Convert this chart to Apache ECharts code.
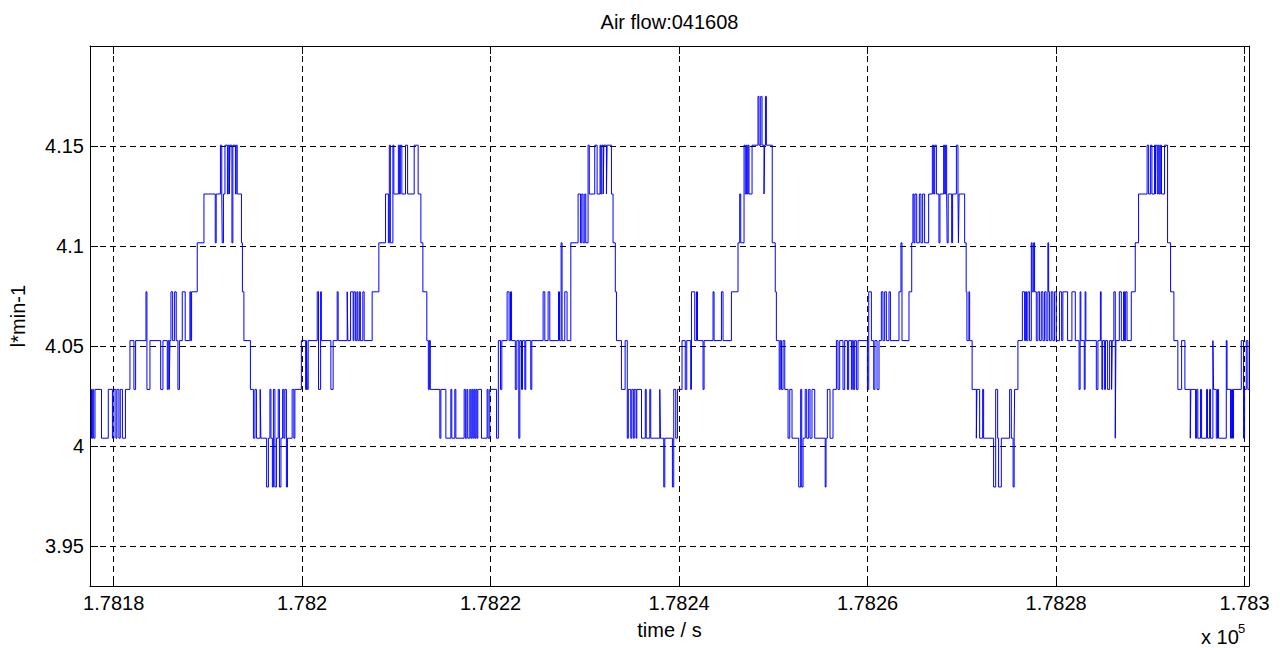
<!DOCTYPE html>
<html>
<head>
<meta charset="utf-8">
<script src="https://cdn.jsdelivr.net/npm/echarts@6/dist/echarts.min.js"></script>
<style>
html,body{margin:0;padding:0;background:#fff;}
#chart{width:1280px;height:648px;}
</style>
</head>
<body>
<div id="chart"></div>
<script>
const chartTitle = 'Air flow:041608';
const xAxisName = 'time / s';
const yAxisName = 'l*min-1';
const xExponentBase = 'x 10';
const xExponent = '5';
const xRange = [178177.49, 178300.47];
const yRange = [3.93, 4.2];
const xTicks = [178180, 178200, 178220, 178240, 178260, 178280, 178300];
const xTickLabels = ['1.7818', '1.782', '1.7822', '1.7824', '1.7826', '1.7828', '1.783'];
const yTicks = [3.95, 4, 4.05, 4.1, 4.15];
const yTickLabels = ['3.95', '4', '4.05', '4.1', '4.15'];

// [time (s), air flow (l/min)] — change points of the quantised signal
const samples = [
[178177.49,4.0283],[178177.65,4.0039],[178177.77,4.0283],[178177.88,4.0039],[178178.02,4.0283],[178178.71,4.0039],
[178179.43,4.0283],[178179.87,4.0039],[178180.03,4.0283],[178180.24,4.0039],[178180.35,4.0283],[178180.56,4.0039],
[178180.70,4.0283],[178180.93,4.0039],[178181.25,4.0283],[178181.73,4.0527],[178182.15,4.0283],[178182.33,4.0527],
[178183.43,4.0771],[178183.53,4.0283],[178183.85,4.0527],[178184.99,4.0283],[178185.23,4.0527],[178185.69,4.0283],
[178185.79,4.0527],[178185.90,4.0283],[178185.97,4.0527],[178186.08,4.0771],[178186.26,4.0527],[178186.47,4.0771],
[178186.64,4.0527],[178186.82,4.0283],[178186.98,4.0527],[178187.28,4.0771],[178187.59,4.0527],[178188.09,4.0771],
[178188.18,4.0527],[178188.27,4.0771],[178188.87,4.1016],[178189.58,4.1260],[178190.78,4.1016],[178190.88,4.1260],
[178191.33,4.1504],[178191.47,4.1260],[178191.52,4.1016],[178191.65,4.1260],[178191.81,4.1504],[178192.07,4.1260],
[178192.16,4.1504],[178192.28,4.1260],[178192.34,4.1504],[178192.55,4.1016],[178192.65,4.1504],[178192.92,4.1260],
[178193.00,4.1504],[178193.11,4.1260],[178193.56,4.1016],[178193.66,4.0771],[178193.82,4.0527],[178194.51,4.0283],
[178194.83,4.0039],[178194.99,4.0283],[178195.15,4.0039],[178195.55,4.0283],[178195.62,4.0039],[178196.23,3.9795],
[178196.42,4.0039],[178196.58,4.0283],[178196.69,4.0039],[178196.84,3.9795],[178196.95,4.0283],[178197.11,3.9795],
[178197.27,4.0039],[178197.46,4.0283],[178197.59,3.9795],[178197.75,4.0039],[178197.93,4.0283],[178198.06,4.0039],
[178198.17,4.0283],[178198.33,3.9795],[178198.44,4.0039],[178198.94,4.0283],[178199.12,4.0039],[178199.23,4.0283],
[178199.92,4.0527],[178200.37,4.0283],[178200.47,4.0527],[178200.54,4.0283],[178200.64,4.0527],[178201.60,4.0771],
[178201.74,4.0283],[178201.96,4.0771],[178202.04,4.0527],[178203.05,4.0283],[178203.29,4.0527],[178203.72,4.0771],
[178203.82,4.0527],[178204.78,4.0771],[178204.85,4.0527],[178205.14,4.0771],[178205.41,4.0527],[178205.49,4.0771],
[178205.65,4.0527],[178205.81,4.0771],[178205.91,4.0527],[178206.07,4.0771],[178206.18,4.0527],[178206.44,4.0771],
[178206.58,4.0527],[178207.43,4.0771],[178208.14,4.1016],[178208.85,4.1260],[178209.15,4.1016],[178209.25,4.1504],
[178209.36,4.1016],[178209.63,4.1504],[178209.73,4.1260],[178210.21,4.1504],[178210.32,4.1260],[178210.42,4.1504],
[178210.58,4.1260],[178210.97,4.1504],[178211.19,4.1260],[178211.89,4.1504],[178212.31,4.1260],[178212.60,4.1016],
[178212.81,4.0771],[178213.23,4.0527],[178213.39,4.0283],[178213.50,4.0527],[178213.60,4.0283],[178214.61,4.0039],
[178214.72,4.0283],[178215.25,4.0039],[178215.78,4.0283],[178215.88,4.0039],[178216.20,4.0283],[178216.31,4.0039],
[178217.19,4.0283],[178217.32,4.0039],[178217.48,4.0283],[178217.58,4.0039],[178217.79,4.0283],[178217.90,4.0039],
[178218.01,4.0283],[178218.11,4.0039],[178218.22,4.0283],[178218.32,4.0039],[178218.43,4.0283],[178218.54,4.0039],
[178218.64,4.0283],[178219.03,4.0039],[178219.63,4.0283],[178219.73,4.0039],[178219.91,4.0283],[178220.63,4.0039],
[178220.82,4.0527],[178221.05,4.0283],[178221.19,4.0527],[178221.75,4.0771],[178221.96,4.0527],[178222.11,4.0771],
[178222.22,4.0527],[178222.62,4.0283],[178222.78,4.0527],[178222.99,4.0039],[178223.10,4.0527],[178223.28,4.0283],
[178223.38,4.0527],[178223.63,4.0283],[178223.73,4.0527],[178224.26,4.0283],[178224.37,4.0527],[178225.57,4.0771],
[178225.75,4.0527],[178226.10,4.0771],[178226.28,4.0527],[178227.20,4.0771],[178227.31,4.0527],[178227.48,4.1016],
[178227.58,4.0527],[178227.87,4.0771],[178228.11,4.0527],[178228.51,4.1016],[178229.28,4.1260],[178229.53,4.1016],
[178229.67,4.1260],[178229.81,4.1016],[178229.99,4.1260],[178230.10,4.1016],[178230.34,4.1504],[178230.47,4.1260],
[178231.05,4.1504],[178231.30,4.1260],[178231.61,4.1504],[178231.69,4.1260],[178231.79,4.1504],[178231.95,4.1260],
[178232.01,4.1504],[178232.29,4.1260],[178232.36,4.1504],[178232.82,4.1260],[178232.99,4.1016],[178233.23,4.0771],
[178233.35,4.0527],[178233.88,4.0283],[178234.27,4.0527],[178234.50,4.0039],[178234.61,4.0283],[178234.87,4.0039],
[178234.98,4.0283],[178235.14,4.0039],[178235.24,4.0283],[178235.43,4.0039],[178235.51,4.0283],[178236.01,4.0039],
[178236.41,4.0283],[178236.51,4.0039],[178236.89,4.0283],[178236.99,4.0039],[178237.95,4.0283],[178238.02,4.0039],
[178238.37,3.9795],[178238.48,4.0039],[178239.29,3.9795],[178239.43,4.0283],[178239.64,4.0039],[178239.82,4.0283],
[178240.31,4.0527],[178240.65,4.0283],[178240.81,4.0527],[178241.23,4.0283],[178241.31,4.0771],[178241.66,4.0527],
[178241.84,4.0771],[178241.95,4.0527],[178242.54,4.0283],[178242.65,4.0527],[178243.60,4.0771],[178243.71,4.0527],
[178244.49,4.0771],[178244.66,4.0527],[178245.55,4.0771],[178246.25,4.1016],[178246.43,4.1260],[178246.54,4.1016],
[178246.89,4.1504],[178247.02,4.1260],[178247.14,4.1504],[178247.23,4.1260],[178247.33,4.1504],[178247.42,4.1260],
[178247.74,4.1504],[178248.37,4.1748],[178248.48,4.1504],[178248.66,4.1748],[178248.80,4.1504],[178249.01,4.1260],
[178249.08,4.1504],[178249.16,4.1748],[178249.26,4.1504],[178249.88,4.1016],[178250.20,4.0771],[178250.32,4.0527],
[178250.62,4.0283],[178250.73,4.0527],[178250.86,4.0283],[178251.03,4.0527],[178251.21,4.0283],[178251.56,4.0039],
[178251.74,4.0283],[178251.98,4.0039],[178252.69,3.9795],[178252.90,4.0283],[178253.01,3.9795],[178253.15,4.0039],
[178253.38,4.0283],[178253.54,4.0039],[178253.75,4.0283],[178253.89,4.0039],[178254.10,4.0283],[178254.39,4.0039],
[178255.50,3.9795],[178255.59,4.0039],[178255.73,4.0283],[178256.01,4.0039],[178256.33,4.0283],[178256.69,4.0527],
[178256.86,4.0283],[178257.04,4.0527],[178257.39,4.0283],[178257.57,4.0527],[178257.86,4.0283],[178257.99,4.0527],
[178258.28,4.0283],[178258.37,4.0527],[178258.49,4.0283],[178258.63,4.0527],[178258.81,4.0283],[178258.98,4.0527],
[178259.98,4.0283],[178260.12,4.0771],[178260.40,4.0527],[178260.65,4.0283],[178260.78,4.0527],[178261.00,4.0283],
[178261.21,4.0527],[178261.46,4.0771],[178261.63,4.0527],[178261.81,4.0771],[178261.99,4.0527],[178262.27,4.0771],
[178262.42,4.0527],[178263.33,4.0771],[178263.54,4.1016],[178263.65,4.0527],[178264.39,4.0771],[178264.68,4.1016],
[178264.81,4.1260],[178264.92,4.1016],[178265.03,4.1260],[178265.21,4.1016],[178265.49,4.1260],[178265.66,4.1016],
[178265.84,4.1260],[178266.05,4.1016],[178266.48,4.1260],[178266.87,4.1504],[178267.01,4.1260],[178267.12,4.1504],
[178267.30,4.1260],[178267.57,4.1016],[178267.68,4.1260],[178268.07,4.1504],[178268.18,4.1260],[178268.28,4.1504],
[178268.39,4.1260],[178268.44,4.1016],[178268.55,4.1260],[178268.92,4.1016],[178269.02,4.1260],[178269.42,4.1504],
[178269.59,4.1260],[178269.64,4.1016],[178269.71,4.1260],[178270.30,4.1016],[178270.46,4.0771],[178270.54,4.0527],
[178270.75,4.0771],[178270.83,4.0527],[178271.09,4.0283],[178271.54,4.0039],[178271.60,4.0283],[178271.89,4.0039],
[178272.21,4.0283],[178272.31,4.0039],[178273.37,3.9795],[178273.59,4.0283],[178273.80,4.0039],[178273.90,3.9795],
[178274.19,4.0039],[178275.07,4.0283],[178275.25,4.0039],[178275.44,3.9795],[178275.55,4.0039],[178275.60,4.0283],
[178275.95,4.0527],[178276.42,4.0771],[178276.66,4.0527],[178276.77,4.0771],[178276.87,4.0527],[178277.01,4.0771],
[178277.19,4.0527],[178277.37,4.1016],[178277.46,4.0771],[178277.62,4.1016],[178277.72,4.0771],[178277.90,4.0527],
[178278.07,4.0771],[178278.25,4.0527],[178278.43,4.0771],[178278.60,4.0527],[178278.78,4.0771],[178278.94,4.0527],
[178279.13,4.1016],[178279.21,4.0771],[178279.31,4.0527],[178279.49,4.0771],[178279.66,4.0527],[178279.84,4.0771],
[178280.02,4.0527],[178280.37,4.0771],[178280.59,4.0527],[178280.72,4.0771],[178281.22,4.0527],[178281.68,4.0771],
[178282.04,4.0527],[178282.44,4.0283],[178282.55,4.0771],[178282.63,4.0527],[178282.99,4.0283],[178283.08,4.0771],
[178283.16,4.0527],[178284.27,4.0283],[178284.44,4.0527],[178284.70,4.0771],[178284.78,4.0527],[178284.86,4.0283],
[178284.94,4.0527],[178285.15,4.0283],[178285.25,4.0527],[178285.47,4.0283],[178285.68,4.0527],[178285.89,4.0283],
[178285.96,4.0527],[178286.13,4.0771],[178286.28,4.0039],[178286.35,4.0527],[178286.71,4.0771],[178286.92,4.0527],
[178287.16,4.0771],[178287.27,4.0527],[178287.38,4.0771],[178287.53,4.0527],[178287.98,4.0771],[178288.40,4.1016],
[178288.75,4.1260],[178289.66,4.1504],[178289.82,4.1260],[178290.03,4.1504],[178290.17,4.1260],[178290.45,4.1504],
[178290.53,4.1260],[178290.59,4.1504],[178290.74,4.1260],[178290.84,4.1504],[178290.95,4.1260],[178291.06,4.1504],
[178291.19,4.1260],[178291.51,4.1504],[178291.83,4.1016],[178292.15,4.0771],[178292.50,4.0527],[178292.92,4.0283],
[178293.32,4.0527],[178293.67,4.0283],[178294.24,4.0039],[178294.30,4.0283],[178294.80,4.0039],[178294.91,4.0283],
[178295.04,4.0039],[178295.33,4.0283],[178295.44,4.0039],[178295.97,4.0283],[178296.07,4.0039],[178296.29,4.0283],
[178296.39,4.0039],[178296.64,4.0527],[178296.71,4.0283],[178297.00,4.0039],[178297.13,4.0283],[178297.24,4.0039],
[178298.06,4.0527],[178298.14,4.0283],[178298.51,4.0039],[178298.62,4.0283],[178298.72,4.0039],[178298.83,4.0283],
[178299.65,4.0527],[178299.89,4.0039],[178300.00,4.0283],[178300.18,4.0527],[178300.35,4.0283],[178300.47,4.0283]
];

const FONT = '"Liberation Sans", Arial, Helvetica, sans-serif';

function pickLabel(ticks, labels) {
  return function (v) {
    for (let i = 0; i < ticks.length; i++) {
      if (Math.abs(ticks[i] - v) < 1e-7) return labels[i];
    }
    return '';
  };
}

const chart = echarts.init(document.getElementById('chart'), null, { renderer: 'svg', width: 1280, height: 648 });

const gridLine = { show: true, lineStyle: { color: '#000', width: 1, type: [6, 4] } };
const frameLine = { show: true, onZero: false, lineStyle: { color: '#000', width: 1 } };

chart.setOption({
  animation: false,
  backgroundColor: '#fff',
  title: {
    text: chartTitle,
    left: 669.5,
    top: 12,
    padding: 0,
    textAlign: 'center',
    textStyle: { fontFamily: FONT, fontSize: 20, fontWeight: 'normal', color: '#000' }
  },
  grid: { left: 90, right: 31, top: 46, bottom: 62, containLabel: false, show: false },
  xAxis: [
    {
      type: 'value', position: 'bottom', min: xRange[0], max: xRange[1],
      name: xAxisName, nameLocation: 'middle', nameGap: 34,
      nameTextStyle: { fontFamily: FONT, fontSize: 20, color: '#000' },
      axisLine: frameLine,
      axisTick: { show: true, inside: true, length: 8, customValues: xTicks, lineStyle: { color: '#000', width: 1 } },
      axisLabel: { show: true, customValues: xTicks, formatter: pickLabel(xTicks, xTickLabels), margin: 7,
                   fontFamily: FONT, fontSize: 20, color: '#000' },
      splitLine: gridLine
    },
    {
      type: 'value', position: 'top', min: xRange[0], max: xRange[1],
      axisLine: frameLine,
      axisTick: { show: true, inside: true, length: 8, customValues: xTicks, lineStyle: { color: '#000', width: 1 } },
      axisLabel: { show: false },
      splitLine: { show: false }
    }
  ],
  yAxis: [
    {
      type: 'value', position: 'left', min: yRange[0], max: yRange[1],
      name: yAxisName, nameLocation: 'middle', nameGap: 62,
      nameTextStyle: { fontFamily: FONT, fontSize: 20, color: '#000' },
      axisLine: frameLine,
      axisTick: { show: true, inside: true, length: 8, customValues: yTicks, lineStyle: { color: '#000', width: 1 } },
      axisLabel: { show: true, customValues: yTicks, formatter: pickLabel(yTicks, yTickLabels), margin: 6,
                   fontFamily: FONT, fontSize: 20, color: '#000' },
      splitLine: gridLine
    },
    {
      type: 'value', position: 'right', min: yRange[0], max: yRange[1],
      axisLine: frameLine,
      axisTick: { show: true, inside: true, length: 8, customValues: yTicks, lineStyle: { color: '#000', width: 1 } },
      axisLabel: { show: false },
      splitLine: { show: false }
    }
  ],
  graphic: [
    { type: 'text', x: 1201, y: 637, silent: true,
      style: { text: xExponentBase, font: '20px ' + FONT, fill: '#000', textAlign: 'left', textVerticalAlign: 'middle' } },
    { type: 'text', x: 1238, y: 628, silent: true,
      style: { text: xExponent, font: '13px ' + FONT, fill: '#000', textAlign: 'left', textVerticalAlign: 'middle' } }
  ],
  series: [
    {
      type: 'line', name: 'Air flow', xAxisIndex: 0, yAxisIndex: 0,
      data: samples, step: 'end', showSymbol: false, symbol: 'none',
      clip: true, silent: true,
      lineStyle: { color: '#0000ff', width: 1 }
    }
  ]
});
</script>
</body>
</html>
